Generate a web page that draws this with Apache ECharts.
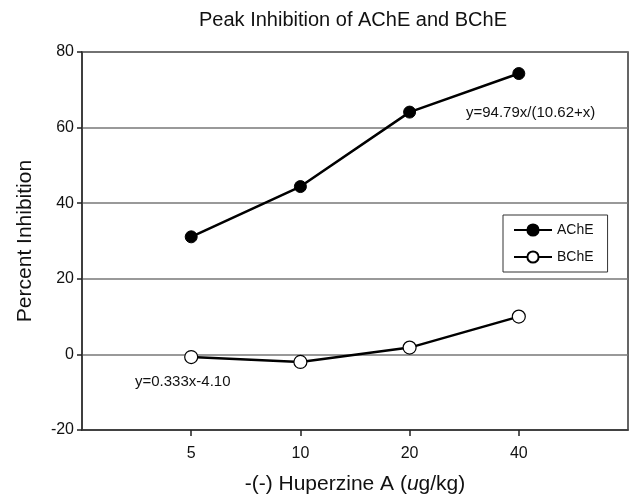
<!DOCTYPE html>
<html>
<head>
<meta charset="utf-8">
<script src="https://cdn.jsdelivr.net/npm/echarts@6/dist/echarts.min.js"></script>
<style>html,body{margin:0;padding:0;background:#fff;}#c{width:635px;height:500px;}</style>
</head>
<body>
<div id="c"></div>
<script>
var categories = ['5', '10', '20', '40'];
var ache = [31.1, 44.4, 64.1, 74.3];
var bche = [-0.7, -2.0, 1.8, 10.0];
var yTicks = [-20, 0, 20, 40, 60, 80];
var achePairs = ache.map(function (v, i) { return [i, v]; });
var bchePairs = bche.map(function (v, i) { return [i, v]; });
var FONT = '"Liberation Sans", Arial, sans-serif';

var chart = echarts.init(document.getElementById('c'));
chart.setOption({
  animation: false,
  textStyle: { fontFamily: FONT },
  title: {
    text: 'Peak Inhibition of AChE and BChE',
    left: 194, top: 5,
    textStyle: { fontFamily: FONT, fontSize: 20, fontWeight: 'normal', color: '#111' }
  },
  grid: {
    left: 82, right: 7, top: 52, bottom: 67,
    show: true, borderColor: '#333', borderWidth: 1.5, backgroundColor: 'transparent'
  },
  legend: {
    orient: 'vertical',
    left: 503, top: 215,
    padding: [8, 14, 8, 10],
    itemGap: 13,
    itemWidth: 38, itemHeight: 14,
    borderColor: '#333', borderWidth: 1,
    textStyle: { fontFamily: FONT, fontSize: 14, color: '#111' },
    data: ['AChE', 'BChE']
  },
  xAxis: {
    type: 'value', min: -1, max: 4,
    name: '-(-) Huperzine A ({i|u}g/kg)',
    nameLocation: 'middle', nameGap: 44,
    nameTextStyle: {
      fontFamily: FONT, fontSize: 21, color: '#111',
      rich: { i: { fontStyle: 'italic', fontFamily: FONT, fontSize: 21, color: '#111' } }
    },
    axisLine: { show: true, onZero: false, lineStyle: { color: '#333', width: 1.5 } },
    axisTick: { show: true, length: 6, customValues: [0, 1, 2, 3], lineStyle: { color: '#222', width: 1.5 } },
    axisLabel: {
      customValues: [0, 1, 2, 3], margin: 16,
      fontFamily: FONT, fontSize: 16, color: '#111',
      formatter: function (v) { return categories[Math.round(v)]; }
    },
    splitLine: { show: false }
  },
  yAxis: {
    type: 'value', min: -20, max: 80, interval: 20,
    name: 'Percent Inhibition',
    nameLocation: 'middle', nameGap: 46,
    nameTextStyle: { fontFamily: FONT, fontSize: 21, color: '#111' },
    axisLine: { show: true, onZero: false, lineStyle: { color: '#333', width: 1.5 } },
    axisTick: { show: true, length: 5, lineStyle: { color: '#222', width: 1.5 } },
    axisLabel: {
      margin: 8, fontFamily: FONT, fontSize: 16, color: '#111',
      formatter: function (v) { return yTicks.indexOf(v) >= 0 ? String(v) : ''; }
    },
    splitLine: { show: true, lineStyle: { color: '#777', width: 1.5 } }
  },
  series: [
    {
      name: 'AChE', type: 'line', data: achePairs,
      symbol: 'circle', symbolSize: 12,
      lineStyle: { color: '#000', width: 2.5 },
      itemStyle: { color: '#000', borderColor: '#000', borderWidth: 1 },
      z: 3
    },
    {
      name: 'BChE', type: 'line', data: bchePairs,
      symbol: 'circle', symbolSize: 13,
      lineStyle: { color: '#000', width: 2.5 },
      itemStyle: { color: '#fff', borderColor: '#000', borderWidth: 1.2 },
      z: 3
    }
  ],
  graphic: [
    { type: 'text', left: 466, top: 105,
      style: { text: 'y=94.79x/(10.62+x)', fontFamily: FONT, fontSize: 15, fill: '#111' } },
    { type: 'text', left: 135, top: 374,
      style: { text: 'y=0.333x-4.10', fontFamily: FONT, fontSize: 15, fill: '#111' } }
  ]
});
</script>
</body>
</html>
